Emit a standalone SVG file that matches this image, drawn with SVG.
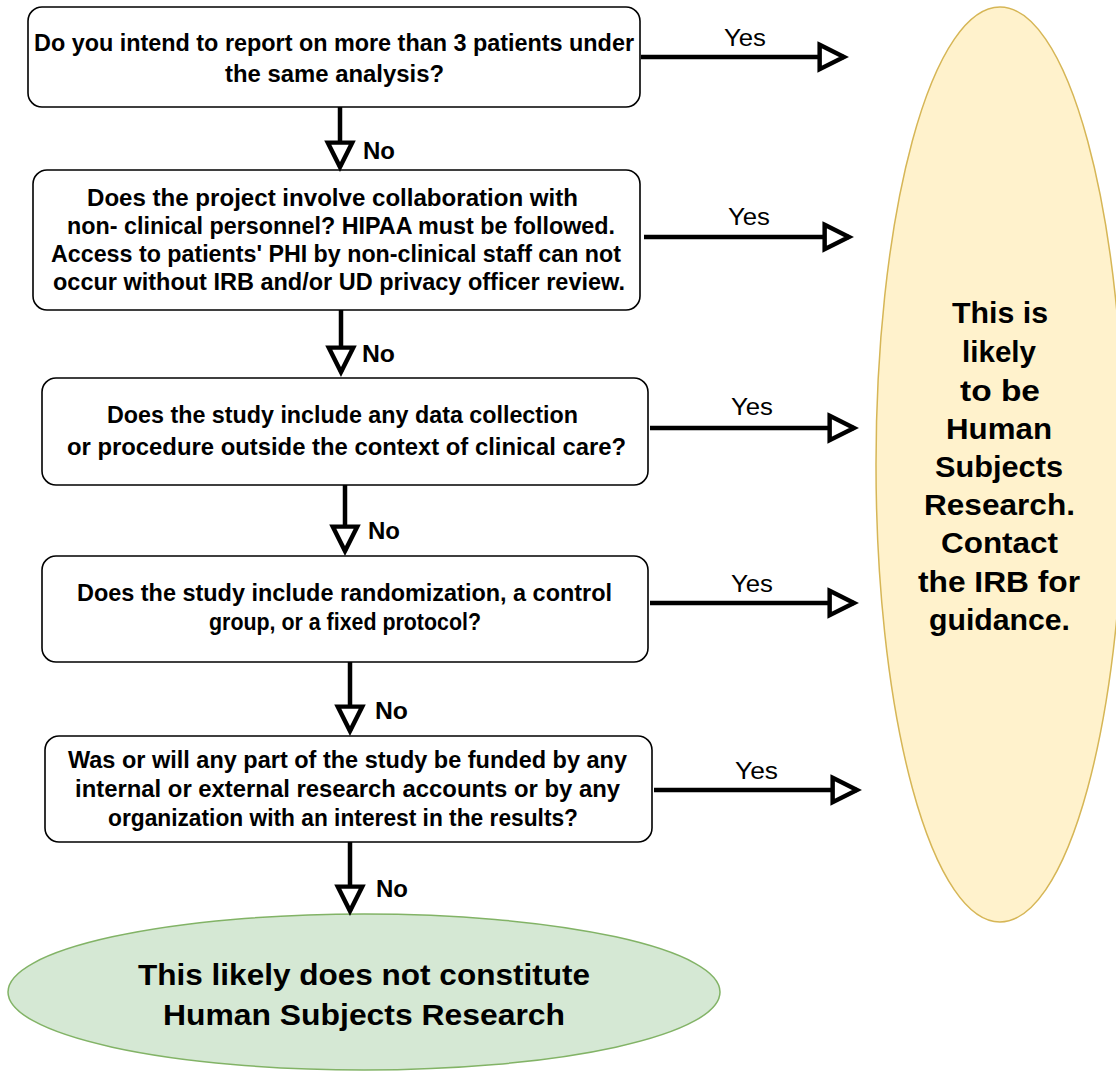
<svg xmlns="http://www.w3.org/2000/svg" width="1116" height="1072" viewBox="0 0 1116 1072">
<style>
.box{fill:#fff;stroke:#000;stroke-width:1.6}
.q{font-family:"Liberation Sans",Arial,sans-serif;font-weight:bold;font-size:23.5px;fill:#000}
.big{font-family:"Liberation Sans",Arial,sans-serif;font-weight:bold;font-size:29px;fill:#000}
.no{font-family:"Liberation Sans",Arial,sans-serif;font-weight:bold;font-size:24px;fill:#000}
.yes{font-family:"Liberation Sans",Arial,sans-serif;font-size:23px;fill:#000}
.edge{stroke:#000;stroke-width:4.5;fill:none;marker-end:url(#tri)}
</style>
<defs>
<marker id="tri" markerUnits="userSpaceOnUse" markerWidth="36" markerHeight="36" viewBox="-4 -17 34 34" refX="23" refY="0" orient="auto">
<path d="M0,-11.5 L23,0 L0,11.5 Z" fill="#fff" stroke="#000" stroke-width="4.2" stroke-linejoin="miter"/>
</marker>
</defs>
<g id="hsr">
<ellipse cx="1000" cy="464.5" rx="124" ry="457.5" fill="#fff2cc" stroke="#d6b656" stroke-width="1.5"/>
<text class="big" x="952" y="323" textLength="96" lengthAdjust="spacingAndGlyphs">This is</text>
<text class="big" x="962" y="362" textLength="74" lengthAdjust="spacingAndGlyphs">likely</text>
<text class="big" x="960" y="401" textLength="80" lengthAdjust="spacingAndGlyphs">to be</text>
<text class="big" x="946" y="439" textLength="106" lengthAdjust="spacingAndGlyphs">Human</text>
<text class="big" x="935" y="477" textLength="128" lengthAdjust="spacingAndGlyphs">Subjects</text>
<text class="big" x="924" y="515" textLength="151" lengthAdjust="spacingAndGlyphs">Research.</text>
<text class="big" x="941" y="553" textLength="117" lengthAdjust="spacingAndGlyphs">Contact</text>
<text class="big" x="918" y="592" textLength="162" lengthAdjust="spacingAndGlyphs">the IRB for</text>
<text class="big" x="929" y="630" textLength="141" lengthAdjust="spacingAndGlyphs">guidance.</text>
</g>
<g id="q1">
<rect class="box" x="28" y="7" width="612" height="100" rx="14"/>
<text class="q" x="34" y="51" textLength="600" lengthAdjust="spacingAndGlyphs">Do you intend to report on more than 3 patients under</text>
<text class="q" x="225" y="82" textLength="219" lengthAdjust="spacingAndGlyphs">the same analysis?</text>
</g>
<g id="q2">
<rect class="box" x="33" y="170" width="607" height="140" rx="14"/>
<text class="q" x="87" y="206" textLength="491" lengthAdjust="spacingAndGlyphs">Does the project involve collaboration with</text>
<text class="q" x="67" y="234" textLength="548" lengthAdjust="spacingAndGlyphs">non- clinical personnel? HIPAA must be followed.</text>
<text class="q" x="51" y="262" textLength="570" lengthAdjust="spacingAndGlyphs">Access to patients' PHI by non-clinical staff can not</text>
<text class="q" x="53" y="290" textLength="572" lengthAdjust="spacingAndGlyphs">occur without IRB and/or UD privacy officer review.</text>
</g>
<g id="q3">
<rect class="box" x="42" y="378" width="606" height="107" rx="14"/>
<text class="q" x="107" y="423" textLength="471" lengthAdjust="spacingAndGlyphs">Does the study include any data collection</text>
<text class="q" x="67" y="455" textLength="559" lengthAdjust="spacingAndGlyphs">or procedure outside the context of clinical care?</text>
</g>
<g id="q4">
<rect class="box" x="42" y="556" width="606" height="106" rx="14"/>
<text class="q" x="77" y="601" textLength="535" lengthAdjust="spacingAndGlyphs">Does the study include randomization, a control</text>
<text class="q" x="209" y="630" textLength="272" lengthAdjust="spacingAndGlyphs">group, or a fixed protocol?</text>
</g>
<g id="q5">
<rect class="box" x="45" y="736" width="607" height="106" rx="14"/>
<text class="q" x="68" y="768" textLength="559" lengthAdjust="spacingAndGlyphs">Was or will any part of the study be funded by any</text>
<text class="q" x="75" y="797" textLength="545" lengthAdjust="spacingAndGlyphs">internal or external research accounts or by any</text>
<text class="q" x="108" y="826" textLength="470" lengthAdjust="spacingAndGlyphs">organization with an interest in the results?</text>
</g>
<g id="nothsr">
<ellipse cx="364" cy="992" rx="356" ry="78" fill="#d5e8d4" stroke="#82b366" stroke-width="1.5"/>
<text class="big" x="138" y="985" textLength="452" lengthAdjust="spacingAndGlyphs">This likely does not constitute</text>
<text class="big" x="163" y="1025" textLength="402" lengthAdjust="spacingAndGlyphs">Human Subjects Research</text>
</g>
<g id="connectors">
<path class="edge" d="M641,57 H844"/>
<path class="edge" d="M644,237 H849"/>
<path class="edge" d="M650,428 H854"/>
<path class="edge" d="M650,603 H854"/>
<path class="edge" d="M654,790 H857"/>
<path class="edge" d="M340,107 V167"/>
<path class="edge" d="M341,310 V372"/>
<path class="edge" d="M345,485 V551"/>
<path class="edge" d="M350,662 V731"/>
<path class="edge" d="M350,842 V911"/>
<text class="yes" x="724" y="46" textLength="42" lengthAdjust="spacingAndGlyphs">Yes</text>
<text class="yes" x="728" y="225" textLength="42" lengthAdjust="spacingAndGlyphs">Yes</text>
<text class="yes" x="731" y="415" textLength="42" lengthAdjust="spacingAndGlyphs">Yes</text>
<text class="yes" x="731" y="592" textLength="42" lengthAdjust="spacingAndGlyphs">Yes</text>
<text class="yes" x="735" y="779" textLength="43" lengthAdjust="spacingAndGlyphs">Yes</text>
<text class="no" x="363" y="159" textLength="32" lengthAdjust="spacingAndGlyphs">No</text>
<text class="no" x="362" y="362" textLength="33" lengthAdjust="spacingAndGlyphs">No</text>
<text class="no" x="368" y="539" textLength="32" lengthAdjust="spacingAndGlyphs">No</text>
<text class="no" x="375" y="719" textLength="33" lengthAdjust="spacingAndGlyphs">No</text>
<text class="no" x="376" y="897" textLength="32" lengthAdjust="spacingAndGlyphs">No</text>
</g>
</svg>
